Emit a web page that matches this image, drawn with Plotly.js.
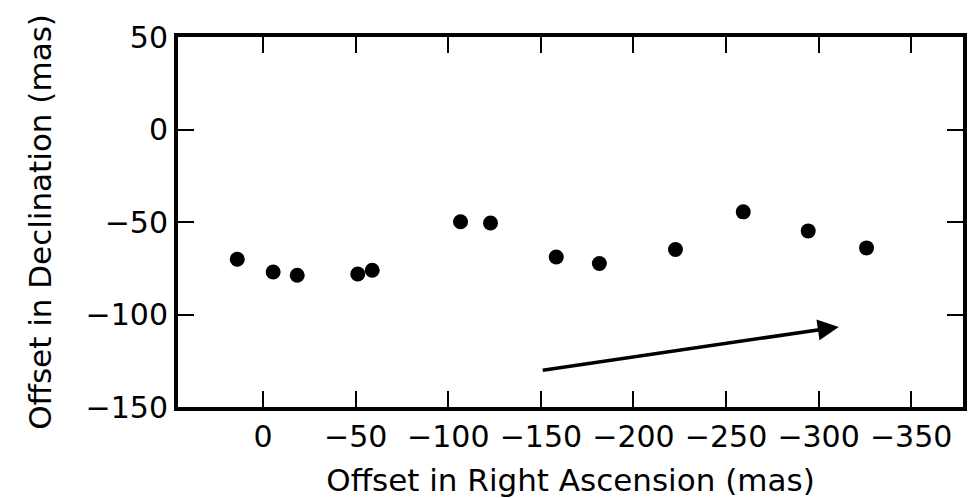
<!DOCTYPE html>
<html>
<head>
<meta charset="utf-8">
<script src="https://cdn.plot.ly/plotly-3.0.1.min.js"></script>
<style>html,body{margin:0;padding:0;background:#fff}#chart{width:976px;height:498px}</style>
</head>
<body>
<div id="chart"></div>
<script>
// Offsets (mas)
const raOffset  = [14.0, -5.4, -18.4, -51.1, -58.9, -106.6, -122.8, -158.3, -181.6, -222.7, -259.3, -294.4, -325.9];
const decOffset = [-70.1, -77.0, -78.8, -78.1, -76.1, -49.9, -50.5, -68.9, -72.4, -64.9, -44.5, -54.8, -64.0];
// Proper-motion arrow: tail and head (mas)
const arrowTail = [-150.2, -130.2];
const arrowHead = [-310.9, -106.7];
const xTicks = [0, -50, -100, -150, -200, -250, -300, -350];
const yTicks = [50, 0, -50, -100, -150];

const FONT = 'DejaVu Sans';
const axisCommon = {
  showline: true, linewidth: 4, linecolor: '#000', mirror: 'ticks',
  ticks: 'inside', ticklen: 16, tickwidth: 2, tickcolor: '#000',
  showgrid: false, zeroline: false,
  tickfont: {family: FONT, size: 30, color: '#000'}
};

const data = [{
  x: raOffset, y: decOffset, type: 'scatter', mode: 'markers',
  marker: {color: '#000', size: 15},
  hoverinfo: 'skip', showlegend: false
}];

const layout = {
  width: 976, height: 498,
  margin: {l: 178, r: 13, t: 37, b: 91},
  paper_bgcolor: '#fff', plot_bgcolor: '#fff',
  font: {family: FONT, color: '#000'},
  xaxis: Object.assign({}, axisCommon, {
    range: [46, -378], tickvals: xTicks,
    title: {text: 'Offset in Right Ascension (mas)', font: {family: FONT, size: 31, color: '#000'}, standoff: 20}
  }),
  yaxis: Object.assign({}, axisCommon, {
    range: [-150, 50], tickvals: yTicks,
    title: {text: 'Offset in Declination (mas)', font: {family: FONT, size: 31, color: '#000'}, standoff: 26}
  }),
  annotations: [{
    x: arrowHead[0], y: arrowHead[1], ax: arrowTail[0], ay: arrowTail[1],
    xref: 'x', yref: 'y', axref: 'x', ayref: 'y',
    text: '', showarrow: true, arrowhead: 2, arrowsize: 1.2, arrowwidth: 3.5, arrowcolor: '#000'
  }]
};

Plotly.newPlot('chart', data, layout, {displayModeBar: false, staticPlot: true});
</script>
</body>
</html>
